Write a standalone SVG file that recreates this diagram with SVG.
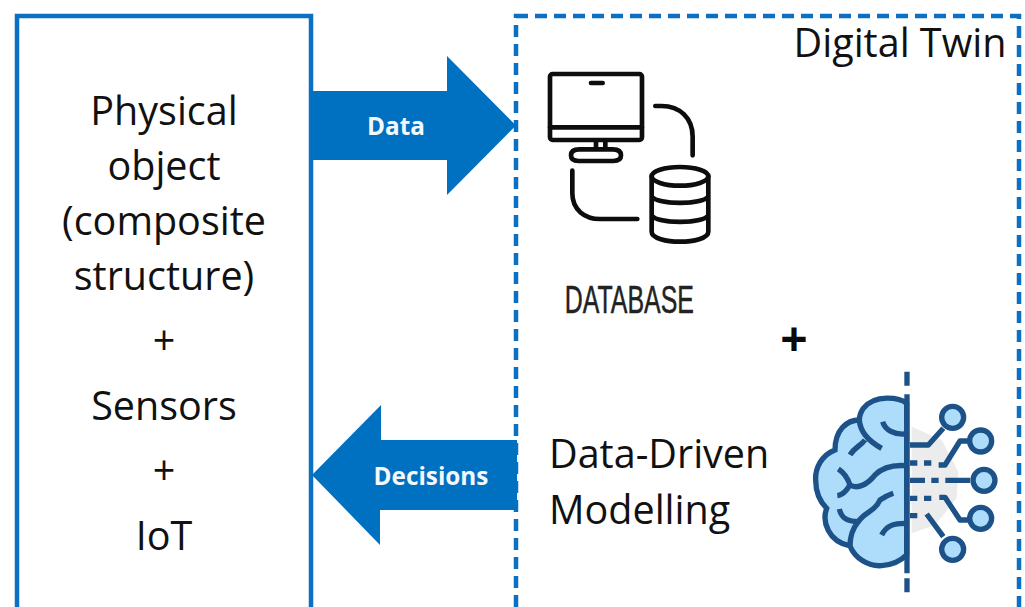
<svg xmlns="http://www.w3.org/2000/svg" width="1025" height="607" viewBox="0 0 1025 607">
<style>
.t{font-family:"Open Sans","Noto Sans","Liberation Sans",sans-serif;font-size:39.500px;fill:#111;text-anchor:middle}
.l{text-anchor:start}
.w{font-family:"Open Sans","Liberation Sans",sans-serif;font-size:24.300px;font-weight:700;fill:#f4f8fc;text-anchor:middle}
.ic{fill:none;stroke:#0d0d0d;stroke-width:14;stroke-linecap:round;stroke-linejoin:round}
.b{fill:none;stroke:#1d5288;stroke-width:16;stroke-linecap:butt;stroke-linejoin:round}
.n{fill:#aedcfb;stroke:#1d5288;stroke-width:16}
</style>
<rect width="1025" height="607" fill="#fff"/>
<g id="physical-object">
<rect x="17" y="16" width="294" height="600" fill="#fff" stroke="#0b70c4" stroke-width="4.500"/>
<text class="t" x="164" y="125">Physical</text>
<text class="t" x="164" y="180">object</text>
<text class="t" x="164" y="235">(composite</text>
<text class="t" x="164" y="290">structure)</text>
<text class="t" x="164" y="355">+</text>
<text class="t" x="164" y="420">Sensors</text>
<text class="t" x="164" y="485">+</text>
<text class="t" x="164" y="550">IoT</text>
</g>
<g id="digital-twin">
<rect x="516" y="16" width="503" height="600" fill="#fff" stroke="#0b70c4" stroke-width="4.500" stroke-dasharray="12 7"/>
<text class="t" x="900" y="57">Digital Twin</text>
</g>
<g id="connectors">
<path id="data-arrow" d="M311 91H447V56L516 125.500L447 195V160H311Z" fill="#0070c0"/>
<path id="decisions-arrow" d="M517 440H381V405L312 475L380 545V510H517Z" fill="#0070c0"/>
<text class="w" x="396" y="135">Data</text>
<text class="w" x="431" y="485">Decisions</text>
</g>
<g id="database" transform="translate(530 50) scale(.3333)">
<rect x="60" y="72" width="276" height="198" rx="8" class="ic"/>
<path class="ic" d="M60 232H336M183 99H218M198 272V298M226 272V298M170 298H248Q273 298 273 316Q273 333 250 333H145Q123 333 123 316Q123 298 148 298H170"/>
<path class="ic" d="M376 168H395C450 168 488 205 488 260V316"/>
<path class="ic" d="M127 362V430C127 480 165 507 210 507H322"/>
<ellipse cx="450" cy="379" rx="85" ry="28" class="ic"/>
<path class="ic" d="M365 379V545C365 565 410 575 450 575C490 575 535 565 535 545V379M365 440C385 465 515 465 535 440M365 497C385 522 515 522 535 497"/>
<text x="298" y="790" style="font-family:'Liberation Sans Narrow','Liberation Sans',sans-serif;font-size:116px;fill:#222;stroke:#222;stroke-width:1.500;text-anchor:middle" textLength="388" lengthAdjust="spacingAndGlyphs">DATABASE</text>
</g>
<g id="plus"><text x="794" y="356" style="font-family:'Open Sans',sans-serif;font-size:48px;font-weight:700;fill:#0a0a0a;text-anchor:middle">+</text></g>
<g id="data-driven-modelling">
<text class="t l" x="549" y="468">Data-Driven</text>
<text class="t l" x="549" y="524">Modelling</text>
</g>
<g id="brain" transform="translate(800 365) scale(.3333)">
<path d="M335 185L425 225L475 320L470 400L405 480L335 505Z" fill="#ececec"/>
<path d="M320 115C300 98 225 85 190 130C180 145 178 155 178 165C140 165 105 195 105 255C65 270 45 310 47 345C47 380 60 410 80 430C65 470 85 530 150 543C165 580 205 605 245 602C280 600 305 585 320 570Z" class="n"/>
<path class="b" d="M321 20V62M321 88V625M321 640V682"/>
<path class="b" d="M248 170C255 195 285 210 315 207M178 165C180 195 200 225 245 250M150 270C165 245 180 245 195 225M115 312C135 325 145 345 150 360C175 375 205 355 225 330C250 305 285 300 315 302M150 360C140 375 130 390 112 392M118 432C125 465 150 470 175 470C195 440 225 440 240 405C255 395 265 390 280 385M175 470C150 500 150 530 150 543M245 510C260 480 285 475 315 475"/>
<path class="b" d="M330 240H385L430 190M330 294H352M372 294H394M416 300H435L480 228H510M330 346H375M394 346H416M436 346H510M330 400H352M372 400H394M418 397H435L480 465H510M330 452H352M380 447L430 515"/>
<circle cx="458" cy="157" r="33" class="n"/><circle cx="542" cy="228" r="33" class="n"/><circle cx="552" cy="346" r="33" class="n"/><circle cx="542" cy="460" r="33" class="n"/><circle cx="458" cy="553" r="33" class="n"/>
</g>
</svg>
